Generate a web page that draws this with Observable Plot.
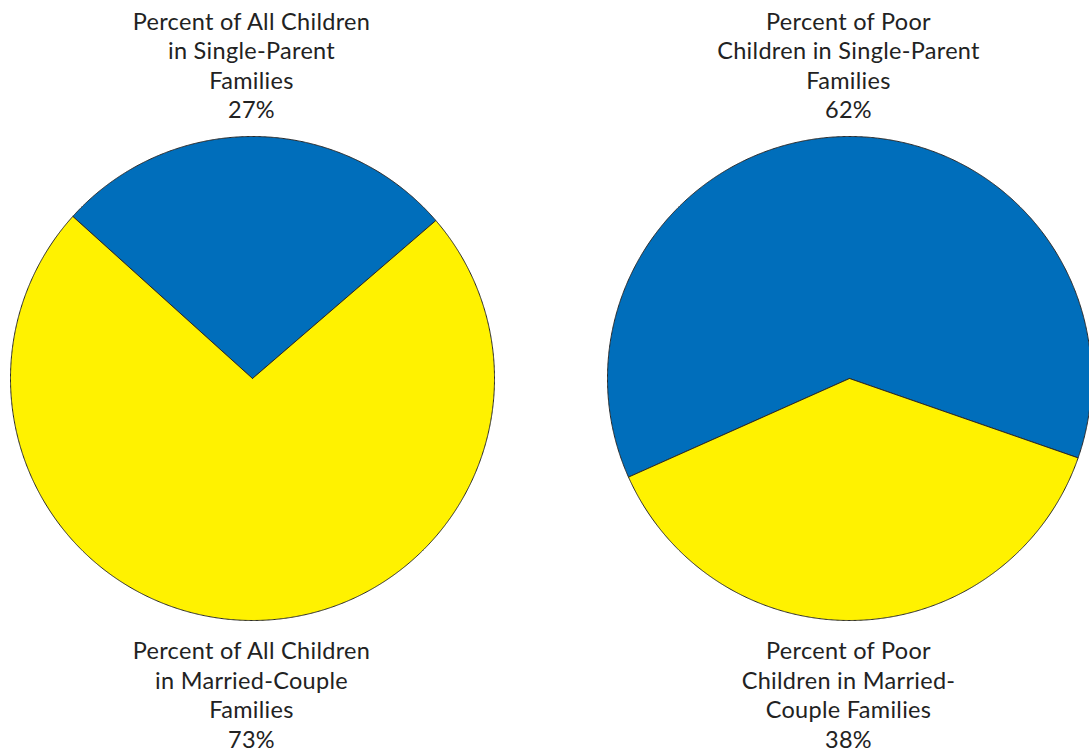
<!DOCTYPE html>
<html>
<head>
<meta charset="utf-8">
<script src="https://cdn.jsdelivr.net/npm/d3@7"></script>
<script src="https://cdn.jsdelivr.net/npm/@observablehq/plot@0.6"></script>
<style>
  html, body { margin: 0; padding: 0; background: #fff; }
  #chart svg text { letter-spacing: 0.3px; }
</style>
</head>
<body>
<div id="chart"></div>
<script>
// ---- data ----
const pies = ["All Children", "Poor Children"];
const categories = ["Single-Parent", "Married-Couple"];
const colors = ["#006EBB", "#FFF200"];
const singleParentPct = [27, 62];
const marriedCouplePct = [73, 38];
const topLabels = [
  "Percent of All Children\nin Single-Parent\nFamilies\n27%",
  "Percent of Poor\nChildren in Single-Parent\nFamilies\n62%"
];
const bottomLabels = [
  "Percent of All Children\nin Married-Couple\nFamilies\n73%",
  "Percent of Poor\nChildren in Married-\nCouple Families\n38%"
];

// ---- layout (pixels) ----
const W = 1089, H = 751;
const R = 242;                 // pixels per unit radius
const centersPx = [252, 849];  // pie centre x positions
const cyPx = 378;
const rotationDeg = [0.65, -2.45]; // small rotation of each pie
const toX = px => (px - centersPx[0]) / R;
const toY = px => (cyPx - px) / R;

// ---- build slice polygons with d3.pie ----
const polys = [];
pies.forEach((p, i) => {
  const vals = [singleParentPct[i], marriedCouplePct[i]];
  const rot = rotationDeg[i] * Math.PI / 180;
  const frac0 = vals[0] / d3.sum(vals);
  const arcs = d3.pie().sort(null)
    .startAngle(rot - frac0 * Math.PI)
    .endAngle(rot - frac0 * Math.PI + 2 * Math.PI)(vals);
  const cx = toX(centersPx[i]);
  arcs.forEach((a, j) => {
    const id = p + "|" + categories[j];
    const pts = [{id, cat: categories[j], x: cx, y: 0}];
    const n = Math.max(8, Math.ceil((a.endAngle - a.startAngle) / 0.005));
    for (let k = 0; k <= n; k++) {
      const t = a.startAngle + (a.endAngle - a.startAngle) * k / n;
      pts.push({id, cat: categories[j], x: cx + Math.sin(t), y: Math.cos(t)});
    }
    pts.push({id, cat: categories[j], x: cx, y: 0});
    polys.push(...pts);
  });
});

const labels = [];
pies.forEach((p, i) => {
  labels.push({x: toX(centersPx[i] - 1), y: toY(64), text: topLabels[i]});
  labels.push({x: toX(centersPx[i] - 1), y: toY(693.5), text: bottomLabels[i]});
});

const chart = Plot.plot({
  width: W,
  height: H,
  margin: 0,
  x: {domain: [toX(0), toX(W)], axis: null},
  y: {domain: [toY(H), toY(0)], axis: null},
  color: {domain: categories, range: colors},
  style: {fontFamily: "Lato, 'Open Sans', sans-serif", background: "#fff", overflow: "visible"},
  marks: [
    Plot.line(polys, {x: "x", y: "y", z: "id", fill: "cat", stroke: "#2a2a2a", strokeWidth: 1, curve: "linear", strokeLinejoin: "round"}),
    Plot.text(labels, {x: "x", y: "y", text: "text", fontSize: 23.5, lineHeight: 1.255, lineAnchor: "middle", textAnchor: "middle", fill: "#222"})
  ]
});
document.getElementById("chart").appendChild(chart);
</script>
</body>
</html>
